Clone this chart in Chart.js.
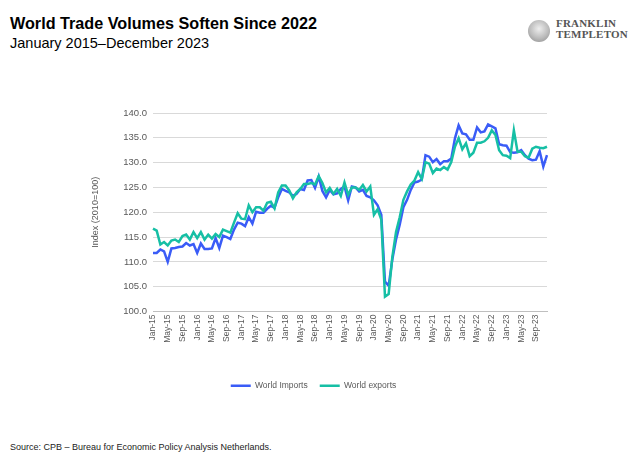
<!DOCTYPE html>
<html>
<head>
<meta charset="utf-8">
<script src="https://cdn.jsdelivr.net/npm/chart.js@4.4.1/dist/chart.umd.min.js"></script>
<style>
  body { margin:0; width:640px; height:470px; background:#fff; position:relative; overflow:hidden; font-family:"Liberation Sans", Arial, sans-serif; }
  #title { position:absolute; left:10px; top:14px; font-size:16.2px; font-weight:bold; color:#000; white-space:nowrap; }
  #subtitle { position:absolute; left:10px; top:35px; font-size:14.5px; color:#000; white-space:nowrap; }
  #logo { position:absolute; left:528px; top:18px; width:105px; height:26px; }
  #logo .icon { position:absolute; left:0; top:2px; width:22px; height:22px; border-radius:50%; background:radial-gradient(circle at 50% 40%, #eee 0, #bbb 55%, #888 100%); }
  #logo .txt { position:absolute; left:28px; top:0; font-family:"Liberation Serif", serif; font-weight:bold; font-size:11px; line-height:11px; color:#555; letter-spacing:0.2px; }
  #source { position:absolute; left:10px; top:442px; font-size:9px; color:#222; white-space:nowrap; }
  #wrap { position:absolute; left:80px; top:95px; width:480px; height:305px; }
</style>
</head>
<body>
<div id="title">World Trade Volumes Soften Since 2022</div>
<div id="subtitle">January 2015–December 2023</div>
<div id="logo"><div class="icon"></div><div class="txt">FRANKLIN<br>TEMPLETON</div></div>
<div id="wrap"><canvas id="chart"></canvas></div>
<div id="source">Source: CPB – Bureau for Economic Policy Analysis Netherlands.</div>
<script>
// month labels
var months = ['Jan','Feb','Mar','Apr','May','Jun','Jul','Aug','Sep','Oct','Nov','Dec'];
var years = ['15','16','17','18','19','20','21','22','23'];

// index values (2010=100), Jan-15 .. Dec-23
var worldImports = [
  111.8, 111.8, 112.5, 112.1, 110.0, 112.7, 112.8, 113.0, 113.1, 113.8, 113.3, 113.6,
  111.8, 113.7, 112.6, 112.6, 112.7, 114.8, 112.8, 115.3, 115.0, 114.6, 116.5, 117.9,
  117.7, 117.2, 119.0, 117.7, 120.1, 119.9, 119.9, 120.7, 121.3, 120.9, 123.0, 124.7,
  124.3, 124.0, 123.3, 123.7, 124.7, 124.5, 126.4, 126.5, 124.9, 127.2, 124.3, 123.0,
  124.5, 123.6, 123.8, 124.7, 125.2, 122.4, 125.2, 125.0, 124.2, 124.5, 123.3, 123.0,
  122.4, 121.4, 119.5, 106.0, 105.2, 110.5, 114.5, 117.5, 121.0, 122.5, 124.5, 126.0,
  126.2, 126.6, 131.5, 131.2, 130.1, 130.7, 129.7, 130.3, 130.3, 130.8, 134.9, 137.5,
  135.9, 135.7, 134.6, 134.6, 137.1, 136.1, 136.3, 137.7, 137.3, 136.9, 133.7, 133.5,
  133.4, 132.1, 132.0, 132.1, 132.5, 131.5, 130.8, 130.5, 130.6, 132.3, 129.2, 131.5
];
var worldExports = [
  116.7, 116.3, 113.5, 114.0, 113.3, 114.3, 114.5, 114.0, 115.2, 115.5, 114.5, 116.0,
  114.8, 116.0, 114.5, 115.5, 114.7, 115.6, 115.0, 116.5, 116.2, 115.9, 117.9, 119.8,
  118.7, 118.6, 121.4, 120.0, 121.0, 121.0, 120.3, 121.9, 122.1, 120.8, 124.0, 125.4,
  125.4, 124.4, 122.8, 124.0, 124.7, 125.7, 125.7, 125.9, 125.6, 127.3, 125.9, 124.0,
  124.9, 123.7, 124.7, 123.3, 126.0, 123.5, 125.0, 125.0, 124.5, 125.5, 124.2, 125.2,
  119.5, 120.6, 118.5, 103.0, 103.5, 111.0, 116.0, 119.0, 122.5, 124.2, 125.6, 126.4,
  128.1, 126.7, 130.1, 129.8, 127.9, 128.8, 128.5, 129.1, 128.6, 130.1, 133.2, 134.9,
  132.7, 133.9, 131.3, 132.0, 134.0, 134.0, 134.3, 135.0, 136.5, 135.6, 132.5, 131.5,
  131.4, 130.9, 136.5, 132.2, 132.2, 131.3, 131.0, 132.8, 133.2, 133.0, 132.9, 133.2
];

var labels = [];
for (var y = 0; y < years.length; y++) {
  for (var m = 0; m < months.length; m++) {
    labels.push(months[m] + '-' + years[y]);
  }
}

var grey = '#595959';
Chart.defaults.font.family = '"Liberation Sans", Arial, sans-serif';
Chart.defaults.color = grey;

new Chart(document.getElementById('chart'), {
  type: 'line',
  data: {
    labels: labels,
    datasets: [
      {
        label: 'World Imports',
        data: worldImports,
        borderColor: '#3a5cf7',
        backgroundColor: '#3a5cf7',
        borderWidth: 2.5,
        pointRadius: 0,
        tension: 0,
        order: 1
      },
      {
        label: 'World exports',
        data: worldExports,
        borderColor: '#16bfa5',
        backgroundColor: '#16bfa5',
        borderWidth: 2.5,
        pointRadius: 0,
        tension: 0,
        order: 0
      }
    ]
  },
  options: {
    responsive: true,
    maintainAspectRatio: false,
    animation: false,
    layout: { padding: { top: 18, right: 13, left: 0, bottom: 0 } },
    plugins: {
      tooltip: { enabled: false },
      legend: {
        position: 'bottom',
        labels: {
          usePointStyle: true,
          pointStyle: 'line',
          pointStyleWidth: 20,
          padding: 12,
          font: { size: 8.5 },
          color: grey,
          sort: function (a, b) { return a.datasetIndex - b.datasetIndex; }
        }
      }
    },
    scales: {
      x: {
        offset: false,
        grid: { display: false, drawTicks: false },
        border: { display: true, color: '#bfbfbf', width: 1 },
        ticks: {
          autoSkip: false,
          minRotation: 90,
          maxRotation: 90,
          padding: 3,
          font: { size: 8.5 },
          callback: function (val, i) { return i % 4 === 0 ? labels[i] : null; }
        },
        afterFit: function (scale) { scale.height = 58; }
      },
      y: {
        min: 100,
        max: 140,
        grid: { color: '#d9d9d9', lineWidth: 1, drawTicks: false },
        border: { display: false },
        ticks: {
          stepSize: 5,
          padding: 6,
          font: { size: 9.5 },
          callback: function (v) { return v.toFixed(1); }
        },
        title: {
          display: true,
          text: 'Index (2010=100)',
          font: { size: 9 },
          color: grey,
          padding: { top: 10, bottom: 4 }
        },
        afterFit: function (scale) { scale.width = 73; }
      }
    }
  }
});
</script>
</body>
</html>
